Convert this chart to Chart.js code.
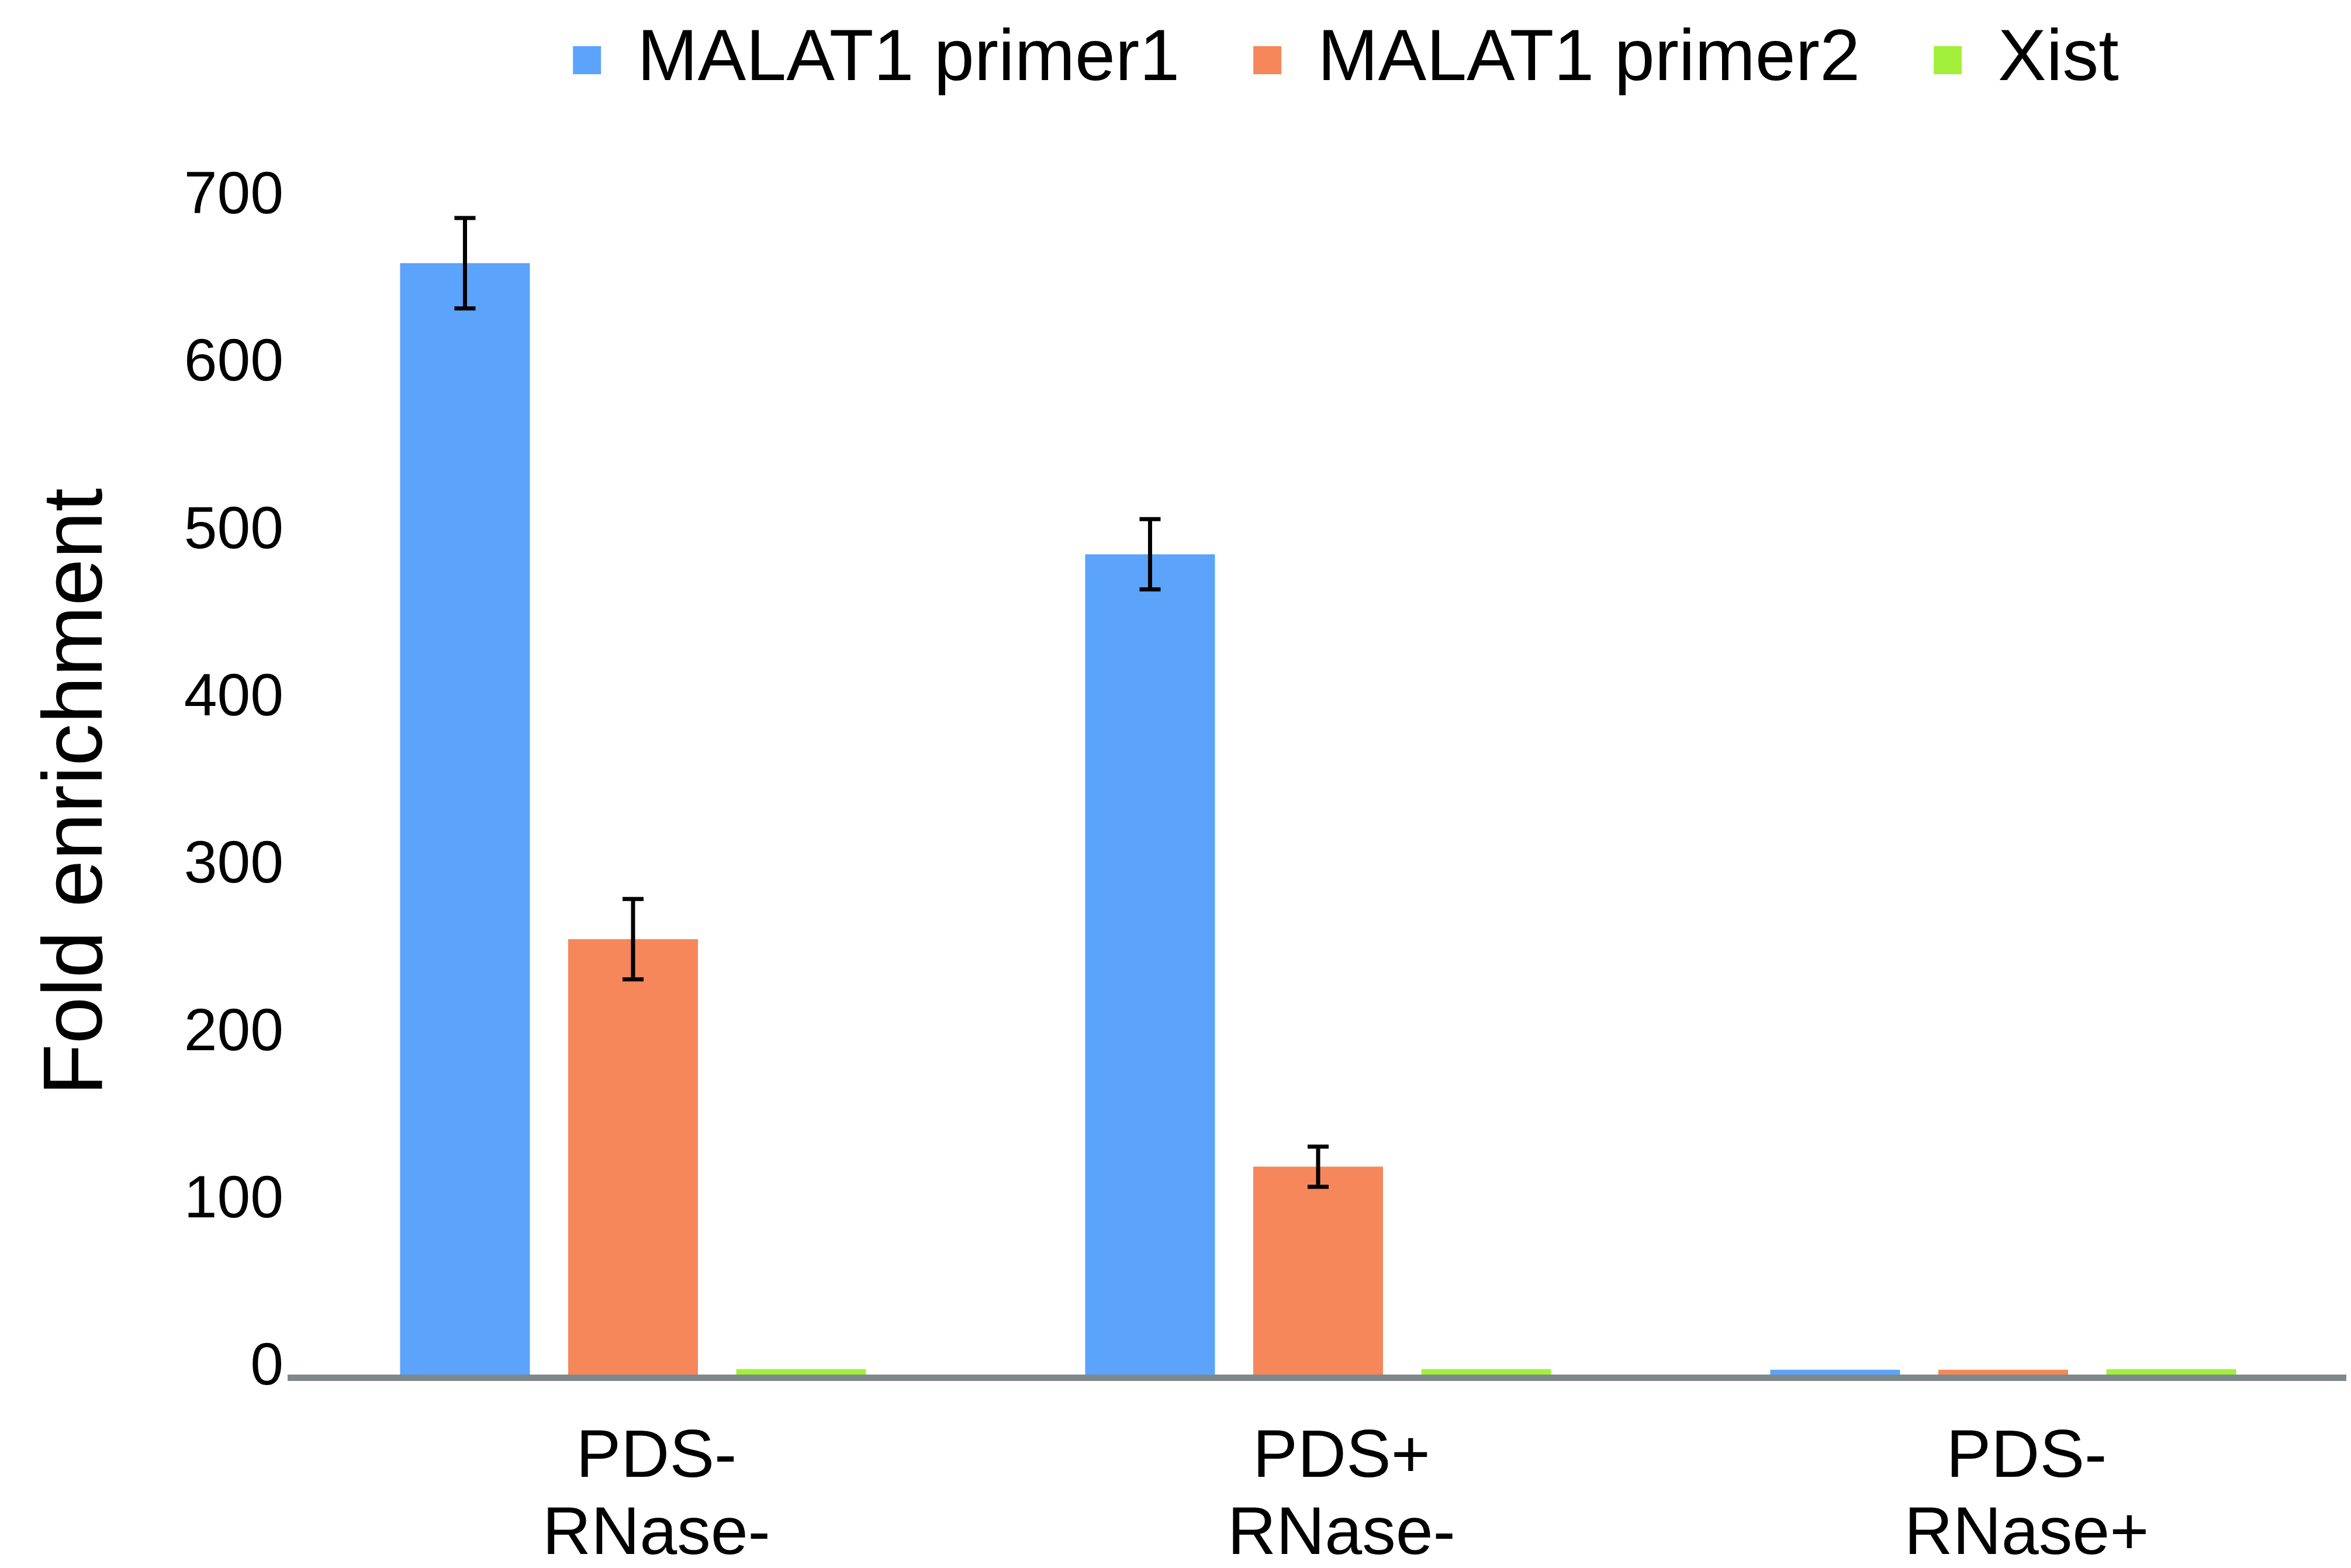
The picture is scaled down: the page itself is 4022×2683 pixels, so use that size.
<!DOCTYPE html>
<html>
<head>
<meta charset="utf-8">
<script src="https://cdn.jsdelivr.net/npm/chart.js@4/dist/chart.umd.min.js"></script>
<style>
  html, body { margin: 0; padding: 0; background: #ffffff; }
  #wrap { width: 4022px; height: 2683px; }
</style>
</head>
<body>
<div id="wrap"><canvas id="c" width="4022" height="2683"></canvas></div>
<script>
const categories = [["PDS-", "RNase-"], ["PDS+", "RNase-"], ["PDS-", "RNase+"]];
const seriesNames = ["MALAT1 primer1", "MALAT1 primer2", "Xist"];
const primer1 = [666, 492, 4.6];
const primer1Err = [27, 21, 0];
const primer2 = [262, 126, 4.6];
const primer2Err = [24, 12, 0];
const xist = [5, 5, 5];
const xistErr = [0, 0, 0];
const yTicks = [0, 100, 200, 300, 400, 500, 600, 700];

const FONT = "'Liberation Sans', Arial, sans-serif";

const errorBars = {
  id: 'errorBars',
  afterDatasetsDraw(chart) {
    const ctx = chart.ctx;
    const ys = chart.scales.y;
    chart.data.datasets.forEach((ds, i) => {
      const meta = chart.getDatasetMeta(i);
      if (meta.hidden) return;
      meta.data.forEach((bar, j) => {
        const e = ds.errors ? ds.errors[j] : 0;
        if (!e) return;
        const v = ds.data[j];
        const yt = ys.getPixelForValue(v + e);
        const yb = ys.getPixelForValue(v - e);
        const x = bar.x;
        const cap = 18;
        ctx.save();
        ctx.strokeStyle = '#000000';
        ctx.lineWidth = 7;
        ctx.beginPath();
        ctx.moveTo(x, yt); ctx.lineTo(x, yb);
        ctx.moveTo(x - cap, yt); ctx.lineTo(x + cap, yt);
        ctx.moveTo(x - cap, yb); ctx.lineTo(x + cap, yb);
        ctx.stroke();
        ctx.restore();
      });
    });
  }
};

const legendShift = {
  id: 'legendShift',
  afterLayout(chart) {
    const l = chart.legend;
    if (!l) return;
    l.left += 296; l.right += 296;
    l.top -= 178; l.bottom -= 178;
  }
};

new Chart(document.getElementById('c'), {
  type: 'bar',
  data: {
    labels: categories,
    datasets: [
      { label: seriesNames[0], data: primer1, errors: primer1Err, backgroundColor: '#5BA3FB' },
      { label: seriesNames[1], data: primer2, errors: primer2Err, backgroundColor: '#F5875A' },
      { label: seriesNames[2], data: xist, errors: xistErr, backgroundColor: '#A3F03A' }
    ]
  },
  options: {
    responsive: false,
    animation: false,
    devicePixelRatio: 1,
    layout: { padding: { top: 93, right: 9, left: 0, bottom: 0 } },
    datasets: {
      bar: { categoryPercentage: 0.736, barPercentage: 0.772, borderWidth: 0 }
    },
    plugins: {
      tooltip: { enabled: false },
      legend: {
        display: true,
        position: 'top',
        align: 'center',
        labels: {
          boxWidth: 48,
          boxHeight: 48,
          padding: 126,
          color: '#000000',
          font: { family: FONT, size: 124 }
        }
      }
    },
    scales: {
      x: {
        type: 'category',
        grid: { display: false, drawTicks: false },
        border: { display: true, color: '#7E898B', width: 11, z: 1 },
        ticks: {
          color: '#000000',
          font: { family: FONT, size: 115, lineHeight: 1.15 },
          padding: 72,
          labelOffset: 40,
          maxRotation: 0,
          autoSkip: false
        },
        afterFit(scale) { scale.height = 326; }
      },
      y: {
        min: 0,
        max: 700,
        grid: { display: false, drawTicks: false },
        border: { display: false },
        afterBuildTicks(scale) { scale.ticks = yTicks.map(v => ({ value: v })); },
        ticks: {
          color: '#000000',
          font: { family: FONT, size: 102 },
          padding: 12,
          labelOffset: -16
        },
        title: {
          display: true,
          text: 'Fold enrichment',
          color: '#000000',
          font: { family: FONT, size: 145, lineHeight: 1.2 },
          padding: { top: 47, bottom: 0 }
        },
        afterFit(scale) { scale.width = 497; }
      }
    }
  },
  plugins: [errorBars, legendShift]
});
</script>
</body>
</html>
